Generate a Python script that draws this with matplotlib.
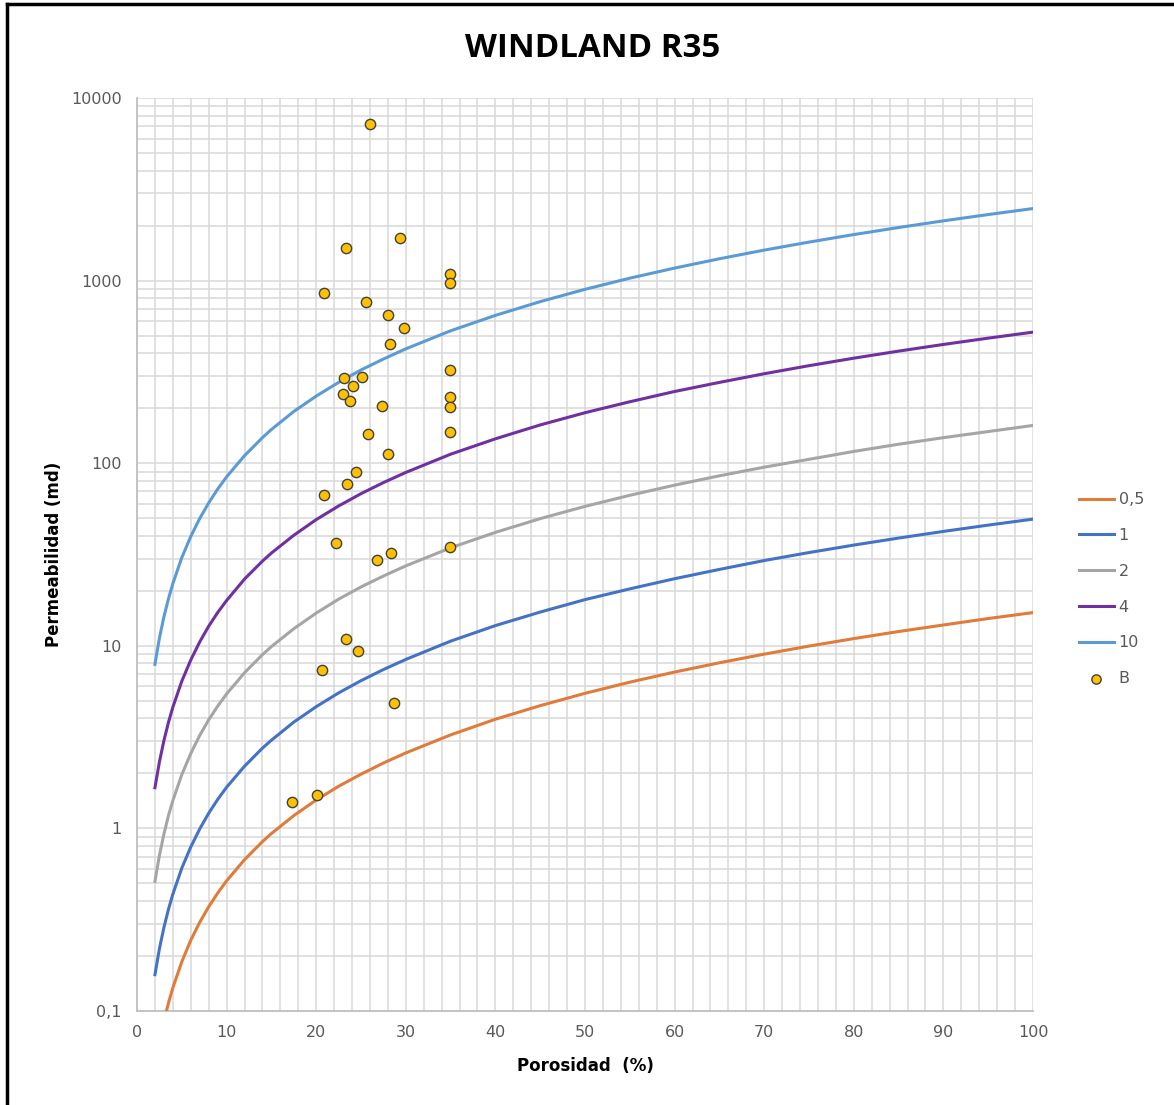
import matplotlib.pyplot as plt
from matplotlib.ticker import FixedLocator, LogLocator, NullFormatter

# Windland R35 curves (porosity %, permeability md)
porosity = [2, 2.5, 3, 3.5, 4, 5, 6, 7, 8, 9, 10, 12, 14, 15, 17.5, 20, 22.5, 25, 27.5, 30,
            35, 40, 45, 50, 55, 60, 65, 70, 75, 80, 85, 90, 95, 100]
k_r05 = [0.0485, 0.0673, 0.088, 0.110, 0.134, 0.186, 0.244, 0.306, 0.372, 0.442, 0.516,
         0.674, 0.846, 0.937, 1.175, 1.43, 1.70, 1.98, 2.28, 2.59,
         3.25, 3.96, 4.70, 5.49, 6.32, 7.18, 8.07, 9.0, 9.96, 10.95, 11.97, 13.0, 14.1, 15.2]
k_r1 = [0.158, 0.219, 0.286, 0.359, 0.436, 0.606, 0.791, 0.993, 1.21, 1.44, 1.68,
        2.19, 2.75, 3.04, 3.82, 4.64, 5.52, 6.44, 7.41, 8.42,
        10.6, 12.9, 15.3, 17.9, 20.5, 23.3, 26.2, 29.3, 32.4, 35.6, 38.9, 42.3, 45.8, 49.4]
k_r2 = [0.512, 0.711, 0.929, 1.17, 1.42, 1.97, 2.57, 3.23, 3.93, 4.67, 5.45,
        7.12, 8.94, 9.9, 12.4, 15.1, 18.0, 21.0, 24.1, 27.4,
        34.4, 41.8, 49.7, 58.0, 66.7, 75.8, 85.3, 95.1, 105, 116, 127, 138, 149, 161]
k_r4 = [1.67, 2.31, 3.02, 3.79, 4.61, 6.4, 8.36, 10.5, 12.8, 15.2, 17.7,
        23.2, 29.1, 32.2, 40.3, 49.1, 58.3, 68.1, 78.3, 89.0,
        112, 136, 162, 189, 217, 247, 277, 309, 342, 376, 411, 447, 484, 522]
k_r10 = [7.91, 11.0, 14.4, 18.0, 21.9, 30.4, 39.7, 49.8, 60.6, 72.1, 84.2,
         110, 138, 153, 192, 233, 277, 324, 372, 423,
         531, 645, 767, 896, 1031, 1171, 1317, 1469, 1625, 1787, 1953, 2125, 2300, 2481]

curve_labels = ["0,5", "1", "2", "4", "10"]
curve_colors = ["#E07B39", "#4472C4", "#A5A5A5", "#7030A0", "#5B9BD5"]

# Sample B
b_phi = [26.0, 23.3, 29.4, 34.9, 34.9, 20.9, 25.6, 28.0, 29.8, 28.2, 34.9, 23.1, 25.1,
         24.1, 23.0, 23.8, 34.9, 27.3, 34.9, 25.8, 34.9, 28.0, 24.4, 23.4, 20.9, 22.2,
         28.3, 34.9, 26.8, 23.3, 24.7, 20.6, 28.7, 17.3, 20.1]
b_k = [7200, 1510, 1710, 1087, 970, 855, 763, 648, 550, 450, 324, 293, 297,
       265, 239, 219, 230, 206, 203, 144, 148, 112, 89.5, 76.9, 67, 36.6,
       32.2, 34.8, 29.5, 10.9, 9.37, 7.37, 4.86, 1.40, 1.52]

fig = plt.figure(figsize=(11.74, 11.05), dpi=100)
ax = fig.add_axes([0.1167, 0.0851, 0.7632, 0.8262])

for ks, lab, col in zip([k_r05, k_r1, k_r2, k_r4, k_r10], curve_labels, curve_colors):
    ax.plot(porosity, ks, color=col, lw=2.2, label=lab, zorder=3)
ax.scatter(b_phi, b_k, s=55, color="#FFC000", edgecolors="#404040", linewidths=1.0,
           label="B", zorder=4)

ax.set_yscale("log")
ax.set_xlim(0, 100)
ax.set_ylim(0.1, 10000)
ax.xaxis.set_major_locator(FixedLocator(range(0, 101, 10)))
ax.xaxis.set_minor_locator(FixedLocator(range(0, 101, 2)))
ax.yaxis.set_major_locator(FixedLocator([0.1, 1, 10, 100, 1000, 10000]))
ax.yaxis.set_minor_locator(LogLocator(base=10, subs=range(2, 10)))
ax.yaxis.set_minor_formatter(NullFormatter())
ax.set_yticklabels(["0,1", "1", "10", "100", "1000", "10000"])
ax.grid(True, which="both", color="#D9D9D9", lw=1.1)
ax.tick_params(which="both", length=0, labelsize=11.5, colors="#595959")
ax.tick_params(axis="y", pad=11)
ax.tick_params(axis="x", pad=10)
for s in ["top", "right"]:
    ax.spines[s].set_visible(False)
for s in ["left", "bottom"]:
    ax.spines[s].set_color("#BFBFBF")
    ax.spines[s].set_linewidth(1.3)

ax.set_xlabel("Porosidad  (%)", fontsize=12, fontweight="bold", labelpad=12)
ax.set_ylabel("Permeabilidad (md)", fontsize=12, fontweight="bold", labelpad=6)
fig.text(0.505, 0.956, "WINDLAND R35", ha="center", va="center", fontsize=23.8,
         fontweight="bold", family="Open Sans")

leg = ax.legend(loc="center left", bbox_to_anchor=(1.035, 0.462), frameon=False,
                fontsize=11.5, handlelength=2.2, labelspacing=1.3, handletextpad=0.3,
                markerscale=0.9)
for t in leg.get_texts():
    t.set_color("#595959")

# chart border
fig.add_artist(plt.Line2D([0.006, 0.006], [0, 0.996], color="black", lw=2.5))
fig.add_artist(plt.Line2D([0.006, 1.0], [0.996, 0.996], color="black", lw=2.5))

fig.savefig("out.png", dpi=100)
